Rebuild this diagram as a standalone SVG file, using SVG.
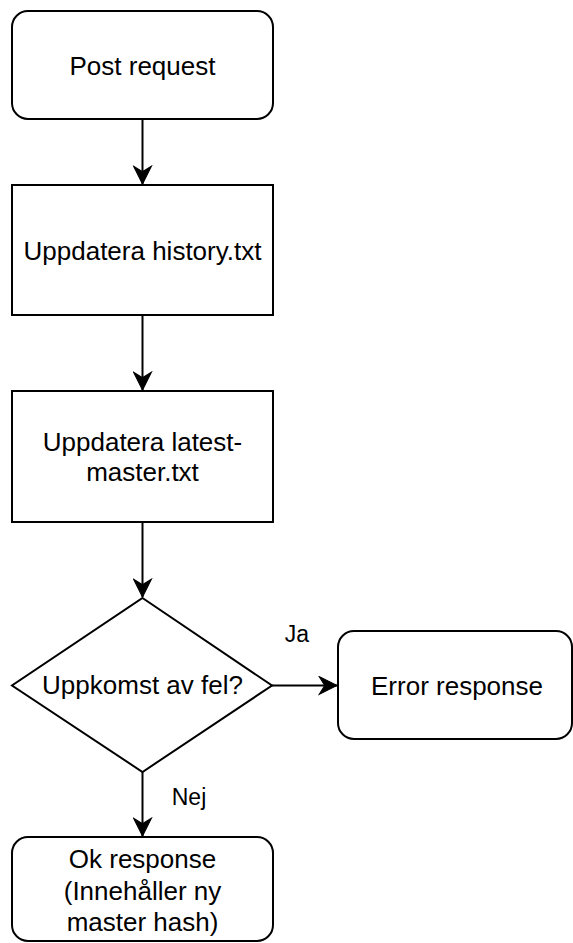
<svg xmlns="http://www.w3.org/2000/svg" width="573" height="943" viewBox="0 0 573 943">
  <style>
    .shape { fill: #ffffff; stroke: #000000; stroke-width: 2; }
    .edge { fill: none; stroke: #000000; stroke-width: 2; }
    .t { font-family: "Liberation Sans", Arial, Helvetica, sans-serif; font-size: 26px; fill: #000000; text-anchor: middle; }
    .lbl { font-family: "Liberation Sans", Arial, Helvetica, sans-serif; font-size: 23px; fill: #000000; text-anchor: middle; }
  </style>
  <defs>
    <marker id="arrow" markerUnits="userSpaceOnUse" markerWidth="20" markerHeight="20" viewBox="-17 -9 18 18" refX="0" refY="0" orient="auto">
      <path d="M0,0 L-16,-8 L-11,0 L-16,8 Z" fill="#000000" stroke="#000000" stroke-width="1"/>
    </marker>
  </defs>
  <rect width="573" height="943" fill="#ffffff"/>

  <g id="connectors">
    <line class="edge" x1="142.5" y1="119" x2="142.5" y2="184" marker-end="url(#arrow)"/>
    <line class="edge" x1="142.5" y1="315" x2="142.5" y2="390" marker-end="url(#arrow)"/>
    <line class="edge" x1="142.5" y1="522" x2="142.5" y2="597" marker-end="url(#arrow)"/>
    <line class="edge" x1="272" y1="685.5" x2="337" y2="685.5" marker-end="url(#arrow)"/>
    <line class="edge" x1="142.5" y1="772" x2="142.5" y2="836" marker-end="url(#arrow)"/>
    <text class="lbl" x="297" y="642">Ja</text>
    <text class="lbl" x="189" y="805">Nej</text>
  </g>

  <g id="post-request">
    <rect class="shape" x="12" y="11" width="261" height="108" rx="16" ry="16"/>
    <text class="t" x="142.5" y="75">Post request</text>
  </g>

  <g id="uppdatera-history">
    <rect class="shape" x="12" y="185" width="261" height="130"/>
    <text class="t" x="142.5" y="260">Uppdatera history.txt</text>
  </g>

  <g id="uppdatera-latest-master">
    <rect class="shape" x="12" y="391" width="261" height="131"/>
    <text class="t" x="142.5" y="451">Uppdatera latest-</text>
    <text class="t" x="142.5" y="481">master.txt</text>
  </g>

  <g id="uppkomst-av-fel">
    <polygon class="shape" points="142.5,598 272,685.5 142.5,772 12,685.5"/>
    <text class="t" x="142.5" y="694">Uppkomst av fel?</text>
  </g>

  <g id="error-response">
    <rect class="shape" x="338" y="631" width="234" height="108" rx="16" ry="16"/>
    <text class="t" x="457" y="695">Error response</text>
  </g>

  <g id="ok-response">
    <rect class="shape" x="12" y="837" width="261" height="104" rx="16" ry="16"/>
    <text class="t" x="142.5" y="868">Ok response</text>
    <text class="t" x="142.5" y="900">(Innehåller ny</text>
    <text class="t" x="142.5" y="931">master hash)</text>
  </g>
</svg>
